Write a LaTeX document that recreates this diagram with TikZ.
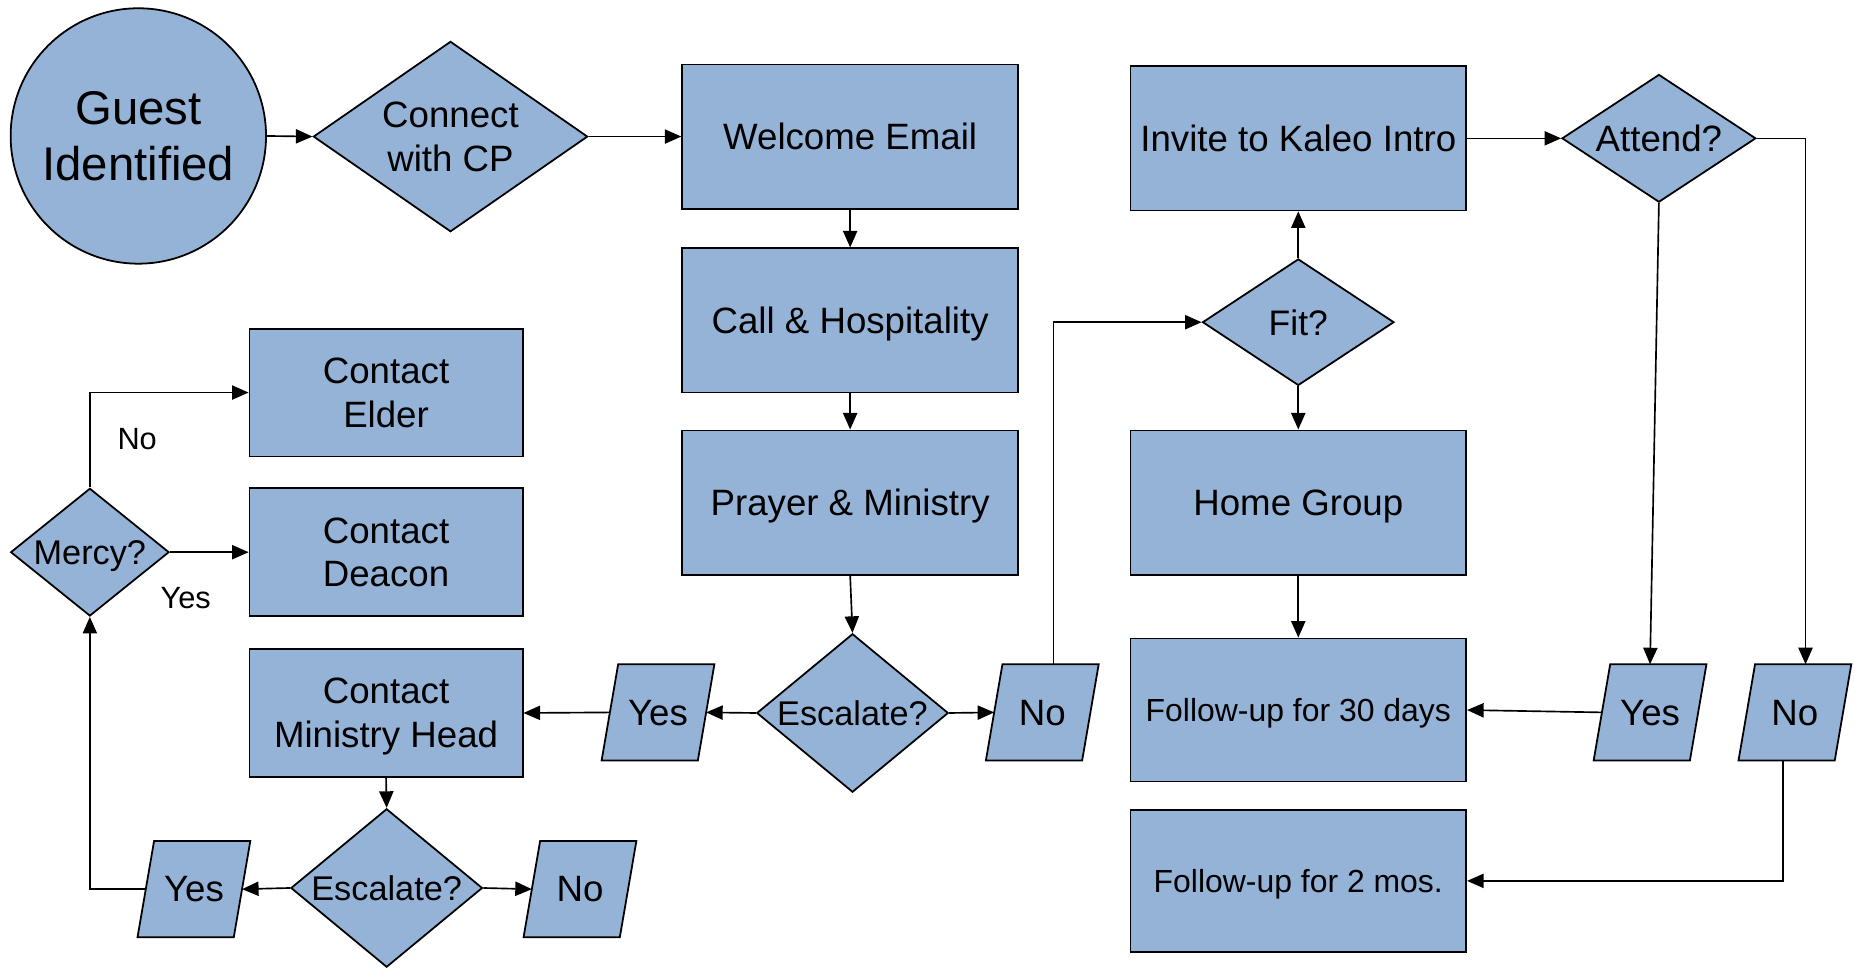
\documentclass[tikz,border=0pt]{standalone}
\usepackage{fontspec}
\setmainfont{Liberation Sans}
\usetikzlibrary{shapes.geometric,arrows.meta,backgrounds}
\definecolor{boxblue}{HTML}{95B3D7}
\newcommand\zt[1]{\makebox[0pt]{\vbox{\halign{\hfil##\hfil\cr#1\crcr}}}}
\newcommand\paral[3]{%
  \node[paranode] (#1) at (#2) {\makebox[0pt]{#3}};
  \begin{scope}[on background layer]
    \draw[shp] ([xshift=7pt]#1.north west) -- ([xshift=7pt]#1.north east)
      -- ([xshift=-7pt]#1.south east) -- ([xshift=-7pt]#1.south west) -- cycle;
  \end{scope}}
\begin{document}
\begin{tikzpicture}[x=1pt,y=-1pt,
  shp/.style={draw=black, line width=1.5pt, fill=boxblue, inner sep=0pt, text=black, text depth=0pt},
  box/.style={shp, rectangle, minimum width=284pt, minimum height=122pt, align=center, font=\fontsize{31}{37}\selectfont},
  cbox/.style={box, minimum width=231pt, minimum height=108pt},
  dia/.style={shp, diamond},
  paranode/.style={rectangle, inner sep=0pt, text depth=0pt, minimum width=81pt, minimum height=81pt, font=\fontsize{31}{37}\selectfont},
  arr/.style={line width=1.4pt, -{Triangle[length=14pt,width=12pt]}},
  lab/.style={font=\fontsize{26}{31}\selectfont, inner sep=0pt}
]
\useasboundingbox (0,0) rectangle (1568,818);

% start
\node[shp, circle, minimum size=216pt, font=\fontsize{40}{48}\selectfont, align=center] (guest) at (117,115) {Guest\\Identified};
\node[dia, minimum width=232pt, minimum height=161pt, font=\fontsize{31}{37}\selectfont] (connect) at (381,115.5) {\zt{Connect\cr with CP}};

% middle column
\node[box] (welcome) at (719,115.5) {Welcome Email};
\node[box] (call) at (719,271) {Call \& Hospitality};
\node[box] (prayer) at (719,425) {Prayer \& Ministry};
\node[dia, minimum width=162pt, minimum height=134pt, font=\fontsize{29}{35}\selectfont] (esc1) at (721,603) {\makebox[0pt]{Escalate?}};
\paral{yes1}{556.5,602.5}{Yes}
\paral{no1}{881.5,602.5}{No}

% left column
\node[cbox] (elder) at (326.5,332) {Contact\\Elder};
\node[cbox] (deacon) at (326.5,467) {Contact\\Deacon};
\node[cbox] (minhead) at (326.5,603) {Contact\\Ministry Head};
\node[dia, minimum width=134pt, minimum height=108pt, font=\fontsize{29}{35}\selectfont] (mercy) at (76,467) {\makebox[0pt]{Mercy?}};
\node[dia, minimum width=162pt, minimum height=134pt, font=\fontsize{29}{35}\selectfont] (esc2) at (327,751) {\makebox[0pt]{Escalate?}};
\paral{yes2}{164,752}{Yes}
\paral{no2}{490.5,752}{No}
\node[lab] (lno) at (116,371) {No};
\node[lab] (lyes) at (157,506) {Yes};

% right column
\node[box] (invite) at (1098,117) {Invite to Kaleo Intro};
\node[dia, minimum width=162pt, minimum height=107pt, font=\fontsize{30}{36}\selectfont] (fit) at (1098,272.5) {\makebox[0pt]{Fit?}};
\node[box] (home) at (1098,425) {Home Group};
\node[box, minimum height=121pt, font=\fontsize{27}{32}\selectfont] (fu30) at (1098,600.5) {Follow-up for 30 days};
\node[box, minimum height=120pt, font=\fontsize{27}{32}\selectfont] (fu2) at (1098,745) {Follow-up for 2 mos.};
\node[dia, minimum width=164pt, minimum height=108pt, font=\fontsize{31}{37}\selectfont] (attend) at (1403,117) {\makebox[0pt]{Attend?}};
\paral{yes3}{1395.5,602.5}{Yes}
\paral{no3}{1518,602.5}{No}

% connectors
\draw[arr] (guest.east) -- (connect.west);
\draw[arr] (connect.east) -- (welcome.west);
\draw[arr] (welcome.south) -- (call.north);
\draw[arr] (call.south) -- (prayer.north);
\draw[arr] (prayer.south) -- (esc1.north);
\draw[arr] (esc1.west) -- (yes1.east);
\draw[arr] (yes1.west) -- (minhead.east);
\draw[arr] (esc1.east) -- (no1.west);
\draw[arr] ([xshift=9.5pt]no1.north) |- (fit.west);
\draw[arr] (fit.north) -- (invite.south);
\draw[arr] (fit.south) -- (home.north);
\draw[arr] (home.south) -- (fu30.north);
\draw[arr] (invite.east) -- (attend.west);
\draw[arr] (attend.south) -- (yes3.north);
\draw[arr] (attend.east) -| ([xshift=9pt]no3.north);
\draw[arr] (yes3.west) -- (fu30.east);
\draw[arr] ([xshift=-10pt]no3.south) |- (fu2.east);
\draw[arr] (minhead.south) -- (esc2.north);
\draw[arr] (esc2.west) -- (yes2.east);
\draw[arr] (esc2.east) -- (no2.west);
\draw[arr] (yes2.west) -| (mercy.south);
\draw[arr] (mercy.east) -- (deacon.west);
\draw[arr] (mercy.north) |- (elder.west);
\end{tikzpicture}
\end{document}
